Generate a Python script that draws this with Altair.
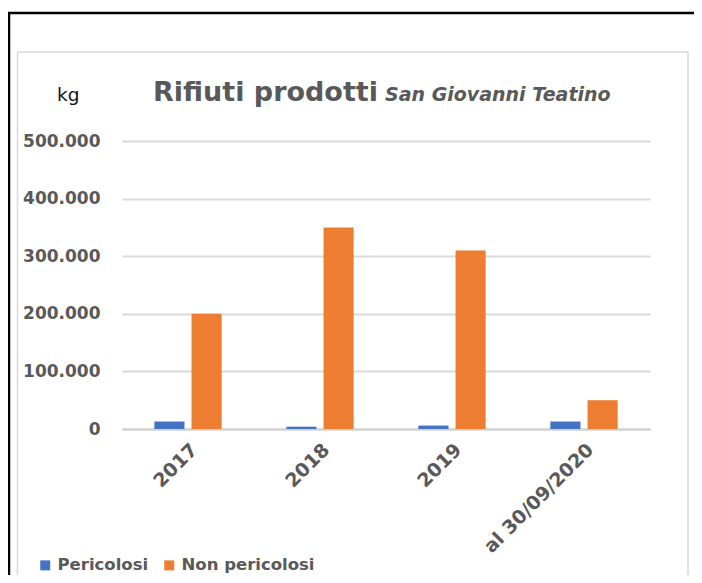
import altair as alt
import pandas as pd

categories = ["2017", "2018", "2019", "al 30/09/2020"]
series = ["Pericolosi", "Non pericolosi"]
pericolosi = [13000, 4000, 6000, 13000]
non_pericolosi = [200000, 350000, 310000, 50000]
colors = ["#4472C4", "#ED7D31"]
y_ticks = [0, 100000, 200000, 300000, 400000, 500000]

rows = []
for c, p, n in zip(categories, pericolosi, non_pericolosi):
    rows.append({"Anno": c, "Tipo": series[0], "kg": p})
    rows.append({"Anno": c, "Tipo": series[1], "kg": n})
df = pd.DataFrame(rows)

FONT = "DejaVu Sans"
GRAY = "#595959"

bars = alt.Chart(df).mark_bar().encode(
    x=alt.X(
        "Anno:N",
        sort=categories,
        title=None,
        scale=alt.Scale(paddingInner=0.49, paddingOuter=0.245),
        axis=alt.Axis(
            labelAngle=-45,
            labelFont=FONT,
            labelFontSize=19,
            labelFontWeight="bold",
            labelColor=GRAY,
            labelPadding=11,
            ticks=False,
            domain=True,
            domainColor="#D0D0D0",
            domainWidth=2,
            grid=False,
        ),
    ),
    xOffset=alt.XOffset("Tipo:N", sort=series, scale=alt.Scale(paddingInner=0.19)),
    y=alt.Y(
        "kg:Q",
        title=None,
        scale=alt.Scale(domain=[0, 500000], nice=False),
        axis=alt.Axis(
            values=y_ticks,
            labelExpr="replace(format(datum.value, ','), ',', '.')",
            labelFont=FONT,
            labelFontSize=17,
            labelFontWeight="bold",
            labelColor=GRAY,
            labelPadding=22,
            ticks=False,
            domain=False,
            grid=True,
            gridColor="#D9D9D9",
            gridWidth=2,
        ),
    ),
    color=alt.Color(
        "Tipo:N",
        sort=series,
        scale=alt.Scale(domain=series, range=colors),
        legend=alt.Legend(
            title=None,
            orient="none",
            direction="horizontal",
            legendX=-85,
            legendY=416,
            symbolType="square",
            symbolSize=100,
            symbolStrokeWidth=0,
            labelFont=FONT,
            labelFontSize=16.5,
            labelFontWeight="bold",
            labelColor=GRAY,
            labelOffset=4,
            columnPadding=12,
            padding=0,
        ),
    ),
)

one = pd.DataFrame({"a": [0]})

frame_black = alt.Chart(one).mark_rect(
    filled=False, stroke="#000000", strokeWidth=2.5
).encode(x=alt.value(-113), x2=alt.value(600), y=alt.value(-128), y2=alt.value(600))

frame_gray = alt.Chart(one).mark_rect(
    filled=False, stroke="#D9D9D9", strokeWidth=1.5
).encode(x=alt.value(-104.5), x2=alt.value(566), y=alt.value(-89), y2=alt.value(620))

kg = alt.Chart(one).mark_text(
    text="kg", font=FONT, fontSize=18.5, color="#111111", align="left", baseline="alphabetic"
).encode(x=alt.value(-65), y=alt.value(-40))

title = alt.Chart(one).mark_text(
    text="Rifiuti prodotti", font=FONT, fontSize=27, fontWeight="bold", color=GRAY,
    align="left", baseline="alphabetic"
).encode(x=alt.value(31), y=alt.value(-40))

subtitle = alt.Chart(one).mark_text(
    text="San Giovanni Teatino", font=FONT, fontSize=19, fontWeight="bold",
    fontStyle="italic", color=GRAY, align="left", baseline="alphabetic"
).encode(x=alt.value(263), y=alt.value(-40))

chart = alt.layer(frame_black, frame_gray, bars, kg, title, subtitle).properties(
    width=528,
    height=288,
    autosize=alt.AutoSizeParams(type="none"),
    padding={"left": 114, "top": 133, "right": 44, "bottom": 146},
    background="white",
).configure_view(stroke=None)

chart.save("out.html", embed_options={"renderer": "svg", "actions": False})
